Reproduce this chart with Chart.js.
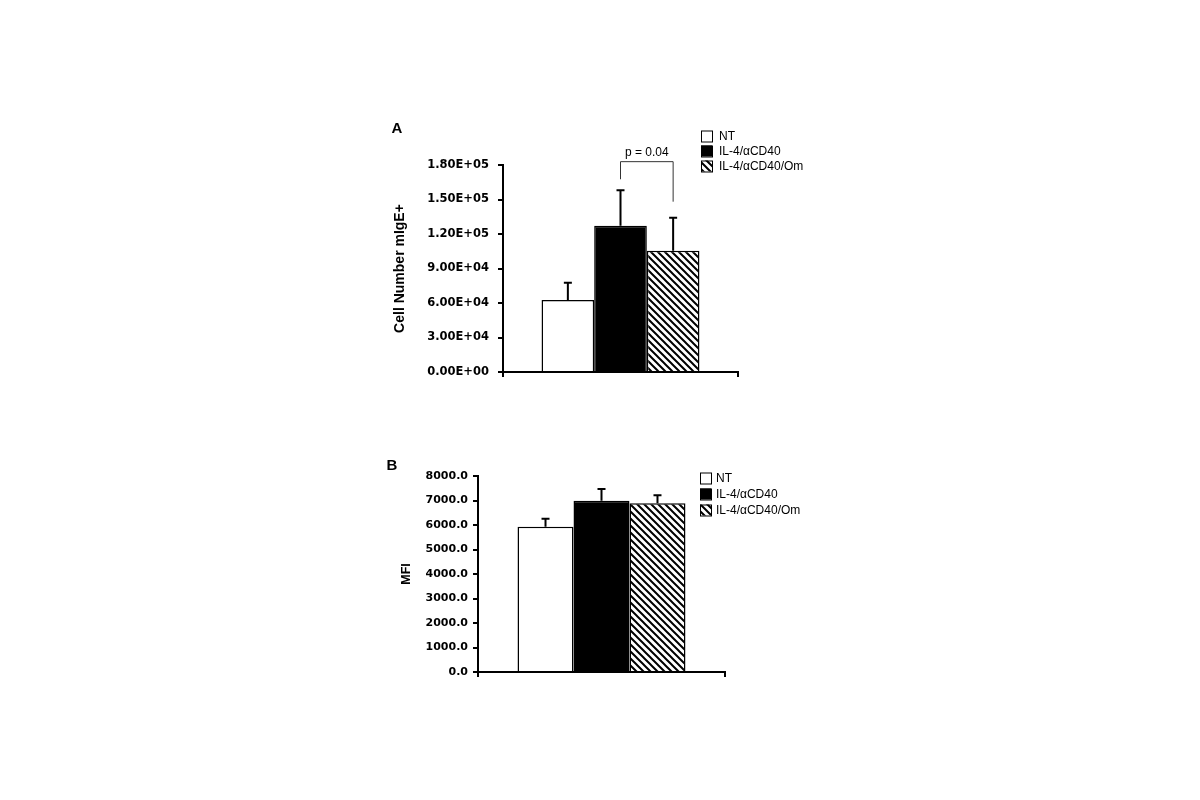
<!DOCTYPE html>
<html>
<head>
<meta charset="utf-8">
<script src="https://cdn.jsdelivr.net/npm/chart.js@4.4.1/dist/chart.umd.min.js"></script>
<style>
  body { margin: 0; background: #fff; }
  canvas { position: absolute; left: 0; }
  #cellChart { top: 0; }
  #mfiChart { top: 420px; }
</style>
</head>
<body>
<canvas id="cellChart" width="1200" height="420"></canvas>
<canvas id="mfiChart" width="1200" height="380"></canvas>
<script>
// groups shared by both panels
const groups = ['NT', 'IL-4/αCD40', 'IL-4/αCD40/Om'];

// panel A: cell number mIgE+ (mean, upper error)
const cellMeans = [62600, 127200, 105500];
const cellErrors = [15000, 30800, 28700];
const cellMax = 180000;
const cellStep = 30000;
// bracket: top level, left leg end, right leg end
const pText = 'p = 0.04';
const bracketLevels = [182900, 167600, 148100];

// panel B: MFI
const mfiMeans = [5930, 6990, 6890];
const mfiErrors = [330, 480, 320];
const mfiMax = 8000;
const mfiStep = 1000;

Chart.defaults.font.family = '"Liberation Sans", Arial, sans-serif';
Chart.defaults.color = '#000';

function makeHatch() {
    const c = document.createElement('canvas');
    c.width = 7; c.height = 7;
    const g = c.getContext('2d');
    g.fillStyle = '#fff';
    g.fillRect(0, 0, 7, 7);
    g.strokeStyle = '#000';
    g.lineWidth = 2;
    g.beginPath();
    g.moveTo(-1, -1); g.lineTo(8, 8);
    g.moveTo(-1, 6); g.lineTo(1, 8);
    g.moveTo(6, -1); g.lineTo(8, 1);
    g.stroke();
    return g.createPattern(c, 'repeat');
}

const fills = ['#ffffff', '#000000', makeHatch()];

function sciLabel(v) {
    const parts = Number(v).toExponential(2).toUpperCase().split('E');
    let exp = parts[1];
    const sign = exp[0] === '-' ? '-' : '+';
    exp = exp.replace(/[+-]/, '');
    if (exp.length < 2) exp = '0' + exp;
    return parts[0] + 'E' + sign + exp;
}

// error bars (upper only) drawn from each bar top
const errorBarPlugin = {
    id: 'errorBars',
    afterDatasetsDraw(chart, args, opts) {
        const ctx = chart.ctx;
        const yScale = chart.scales.y;
        ctx.save();
        ctx.strokeStyle = '#000';
        ctx.lineWidth = 2;
        chart.data.datasets.forEach((ds, i) => {
            const bar = chart.getDatasetMeta(i).data[0];
            const top = yScale.getPixelForValue(ds.data[0] + opts.errors[i]);
            ctx.beginPath();
            ctx.moveTo(bar.x, bar.y);
            ctx.lineTo(bar.x, top);
            ctx.moveTo(bar.x - 4, top);
            ctx.lineTo(bar.x + 4, top);
            ctx.stroke();
        });
        ctx.restore();
    }
};

// legend, panel letter and bracket drawn on top
const decorPlugin = {
    id: 'decor',
    afterDraw(chart, args, opts) {
        const ctx = chart.ctx;
        ctx.save();
        // panel letter
        ctx.fillStyle = '#000';
        ctx.font = 'bold 15px "Liberation Sans", Arial, sans-serif';
        ctx.textAlign = 'center';
        ctx.textBaseline = 'middle';
        ctx.fillText(opts.letter, opts.letterX, opts.letterY);

        // legend
        ctx.font = '12px "Liberation Sans", Arial, sans-serif';
        ctx.textAlign = 'left';
        chart.data.datasets.forEach((ds, i) => {
            const y = opts.legendY + i * opts.legendGap;
            ctx.fillStyle = ds.backgroundColor;
            ctx.fillRect(opts.legendX, y - 5.5, 11, 11);
            ctx.strokeStyle = '#000';
            ctx.lineWidth = 1;
            ctx.strokeRect(opts.legendX + 0.5, y - 5, 11, 11);
            ctx.fillStyle = '#000';
            ctx.fillText(ds.label, opts.legendX + opts.textOffset, y + 0.5);
        });

        // significance bracket
        if (opts.bracket) {
            const yScale = chart.scales.y;
            const x1 = chart.getDatasetMeta(1).data[0].x;
            const x2 = chart.getDatasetMeta(2).data[0].x;
            const yTop = yScale.getPixelForValue(opts.bracket[0]);
            ctx.strokeStyle = '#333';
            ctx.lineWidth = 1;
            ctx.beginPath();
            ctx.moveTo(x1, yScale.getPixelForValue(opts.bracket[1]));
            ctx.lineTo(x1, yTop);
            ctx.lineTo(x2, yTop);
            ctx.lineTo(x2, yScale.getPixelForValue(opts.bracket[2]));
            ctx.stroke();
            ctx.fillStyle = '#000';
            ctx.font = '12px "Liberation Sans", Arial, sans-serif';
            ctx.textAlign = 'center';
            ctx.fillText(opts.text, (x1 + x2) / 2, yTop - 8.5);
        }
        ctx.restore();
    }
};

function buildChart(id, cfg) {
    return new Chart(document.getElementById(id), {
        type: 'bar',
        data: {
            labels: [''],
            datasets: groups.map((g, i) => ({
                label: g,
                data: [cfg.means[i]],
                backgroundColor: fills[i],
                borderColor: '#000',
                borderWidth: 1.5,
                categoryPercentage: cfg.catPct,
                barPercentage: 1.0
            }))
        },
        options: {
            responsive: false,
            animation: false,
            events: [],
            layout: { padding: cfg.padding },
            plugins: {
                legend: { display: false },
                tooltip: { enabled: false },
                errorBars: { errors: cfg.errors },
                decor: cfg.decor
            },
            scales: {
                x: {
                    afterFit(scale) { scale.height = 10; },
                    grid: { drawOnChartArea: false, drawTicks: true, tickLength: 5, color: '#000', lineWidth: 2 },
                    border: { display: true, color: '#000', width: 2 },
                    ticks: { display: false }
                },
                y: {
                    min: 0,
                    max: cfg.max,
                    afterFit(scale) { scale.width = cfg.yWidth; },
                    grid: { drawOnChartArea: false, drawTicks: true, tickLength: 5, color: '#000', lineWidth: 2 },
                    border: { display: true, color: '#000', width: 2 },
                    ticks: {
                        stepSize: cfg.step,
                        padding: cfg.tickPad,
                        color: '#000',
                        font: { family: '"DejaVu Sans", sans-serif', weight: 'bold', size: cfg.tickSize },
                        callback: cfg.format
                    },
                    title: {
                        display: true,
                        text: cfg.title,
                        color: '#000',
                        padding: 0,
                        font: { weight: 'bold', size: cfg.titleSize }
                    }
                }
            }
        },
        plugins: [errorBarPlugin, decorPlugin]
    });
}

buildChart('cellChart', {
    means: cellMeans,
    errors: cellErrors,
    max: cellMax,
    step: cellStep,
    catPct: 0.672,
    padding: { left: 392, top: 165, right: 462, bottom: 38 },
    yWidth: 111,
    tickPad: 9,
    tickSize: 11.5,
    title: 'Cell Number mIgE+',
    titleSize: 14,
    format: v => sciLabel(v),
    decor: {
        letter: 'A', letterX: 397, letterY: 129,
        legendX: 701, legendY: 136, legendGap: 15, textOffset: 18,
        bracket: bracketLevels, text: pText
    }
});

buildChart('mfiChart', {
    means: mfiMeans,
    errors: mfiErrors,
    max: mfiMax,
    step: mfiStep,
    catPct: 0.68,
    padding: { left: 399, top: 56, right: 475, bottom: 118 },
    yWidth: 79,
    tickPad: 5,
    tickSize: 11,
    title: 'MFI',
    titleSize: 12.5,
    format: v => Number(v).toFixed(1),
    decor: {
        letter: 'B', letterX: 392, letterY: 46,
        legendX: 700, legendY: 58, legendGap: 16, textOffset: 16,
        bracket: null, text: ''
    }
});
</script>
</body>
</html>
